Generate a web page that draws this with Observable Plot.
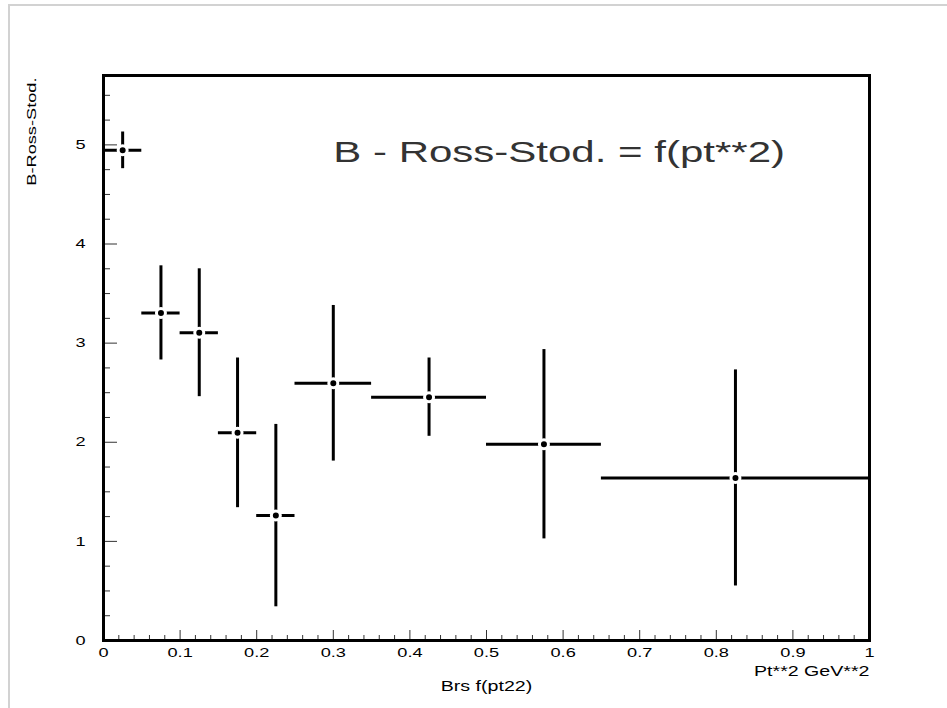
<!DOCTYPE html>
<html>
<head>
<meta charset="utf-8">
<script src="https://cdn.jsdelivr.net/npm/d3@7"></script>
<script src="https://cdn.jsdelivr.net/npm/@observablehq/plot@0.6"></script>
<style>
  html, body { margin: 0; padding: 0; background: #fff; }
  #wrap { position: relative; width: 947px; height: 708px; overflow: hidden; }
  #edge { position: absolute; left: 8px; top: 4px; right: 0; bottom: 0;
          border-top: 2px solid #d2d2d2; border-left: 2px solid #d2d2d2; pointer-events: none; }
</style>
</head>
<body>
<div id="wrap"><div id="edge"></div></div>
<script>
// Bins in pt**2 (GeV**2) and the measured B-Ross-Stod. ratio with its error
const binLo    = [0.00, 0.05, 0.10, 0.15, 0.20, 0.25, 0.35, 0.50, 0.65];
const binHi    = [0.05, 0.10, 0.15, 0.20, 0.25, 0.35, 0.50, 0.65, 1.00];
const ratio    = [4.945, 3.305, 3.105, 2.095, 1.26, 2.595, 2.455, 1.98, 1.64];
const ratioErr = [0.185, 0.475, 0.645, 0.755, 0.92, 0.785, 0.395, 0.955, 1.09];

// Axis ticks
const xMajor = [0, 0.1, 0.2, 0.3, 0.4, 0.5, 0.6, 0.7, 0.8, 0.9, 1];
const xMinor = d3.range(0, 51).map(i => i / 50).filter(v => Math.round(v * 50) % 5 !== 0);
const yMajor = [0, 1, 2, 3, 4, 5];
const yMinor = d3.range(0, 23).map(i => i / 4).filter(v => v % 1 !== 0);

// Texts
const titleText = "B - Ross-Stod. = f(pt**2)";
const titlePos = {x: 0.3, y: 4.92};
const yTitle = "B-Ross-Stod.";
const xTitle = "Pt**2 GeV**2";
const xCaption = "Brs f(pt22)";

// Layout
const W = 947, H = 708;
const M = {left: 103, right: 78, top: 75, bottom: 68};
const xDomain = [0, 1], yDomain = [0, 5.7];
const pxPerX = (W - M.left - M.right) / (xDomain[1] - xDomain[0]);
const pxPerY = (H - M.top - M.bottom) / (yDomain[1] - yDomain[0]);

const points = binLo.map((lo, i) => ({
  lo, hi: binHi[i],
  x: (lo + binHi[i]) / 2,
  y: ratio[i],
  ylo: ratio[i] - ratioErr[i],
  yhi: ratio[i] + ratioErr[i]
}));

const fmt = d => String(+d.toFixed(2));

// Ticks pointing into the frame from the bottom and left edges (length given in pixels)
const inwardX = (ticks, size) => Plot.ruleX(ticks, {
  x: d => d, y1: yDomain[0], y2: yDomain[0] + size / pxPerY, stroke: "#333", strokeWidth: 1
});
const inwardY = (ticks, size) => Plot.ruleY(ticks, {
  y: d => d, x1: xDomain[0], x2: xDomain[0] + size / pxPerX, stroke: "#333", strokeWidth: 1
});

const chart = Plot.plot({
  width: W,
  height: H,
  marginLeft: M.left,
  marginRight: M.right,
  marginTop: M.top,
  marginBottom: M.bottom,
  style: {fontFamily: "'Liberation Sans', Arial, sans-serif", fontSize: "13px", color: "#000", background: "transparent"},
  x: {domain: xDomain},
  y: {domain: yDomain},
  marks: [
    inwardX(xMinor, 5),
    inwardX(xMajor, 10),
    inwardY(yMinor, 7),
    inwardY(yMajor, 14),
    // tick labels
    Plot.axisX(xMajor, {tickSize: 0, tickPadding: 7, label: null, tickFormat: fmt, fontSize: 13, fill: "#000"}),
    Plot.axisY(yMajor, {tickSize: 0, tickPadding: 18, label: null, tickFormat: fmt, fontSize: 13, fill: "#000"}),
    // axis titles
    Plot.text([xTitle], {frameAnchor: "bottom-right", textAnchor: "end", dy: 35, fontSize: 14, fill: "#000"}),
    Plot.text([xCaption], {frameAnchor: "bottom", dy: 50, fontSize: 14, fill: "#000"}),
    Plot.text([yTitle], {frameAnchor: "top-left", rotate: -90, textAnchor: "end", dx: -77, dy: 2, fontSize: 13, fill: "#000"}),
    // error bars
    Plot.ruleY(points, {y: "y", x1: "lo", x2: "hi", stroke: "#000", strokeWidth: 3}),
    Plot.ruleX(points, {x: "x", y1: "ylo", y2: "yhi", stroke: "#000", strokeWidth: 3}),
    Plot.dot(points, {x: "x", y: "y", r: 4.5, fill: "#000", stroke: "#fff", strokeWidth: 3}),
    // frame
    Plot.frame({stroke: "#000", strokeWidth: 3}),
    // title inside the frame
    Plot.text([titleText], {x: () => titlePos.x, y: () => titlePos.y, textAnchor: "start", fontSize: 30, fill: "#333"})
  ]
});

document.getElementById("wrap").appendChild(chart);

// The lettering is horizontally extended: widen each text run.
d3.select(chart).selectAll("text").each(function () {
  const L = this.getComputedTextLength();
  if (L > 0) {
    this.setAttribute("textLength", (L * 1.4).toFixed(1));
    this.setAttribute("lengthAdjust", "spacingAndGlyphs");
  }
});
</script>
</body>
</html>
